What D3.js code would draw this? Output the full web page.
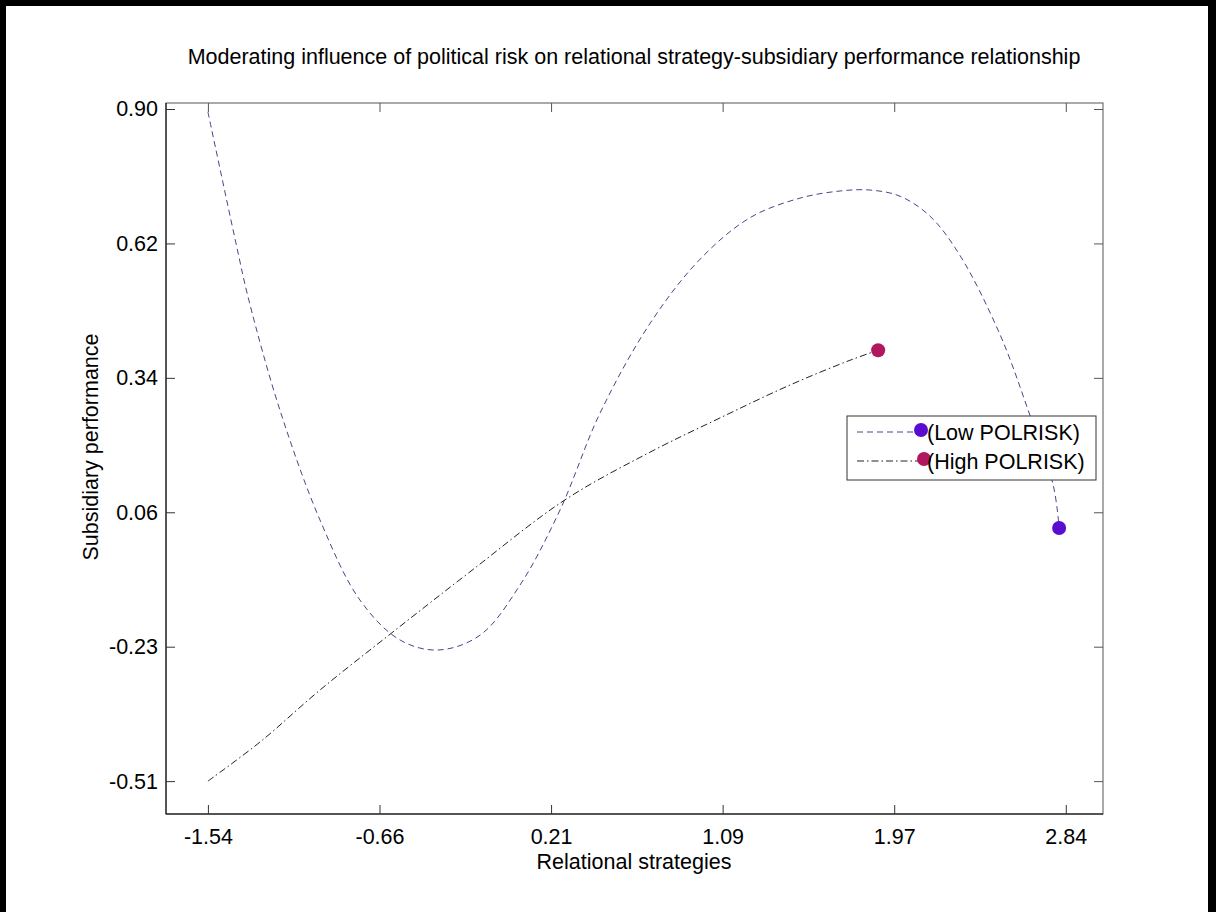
<!DOCTYPE html>
<html>
<head>
<meta charset="utf-8">
<script src="https://cdn.jsdelivr.net/npm/d3@7"></script>
<style>
  body { margin: 0; background: #fff; }
  text { font-family: "Liberation Sans", Arial, sans-serif; fill: #000; }
</style>
</head>
<body>
<svg id="chart" width="1216" height="912"></svg>
<script>
// x tick values and their printed labels
let xTickValues = [-1.54, -0.664, 0.212, 1.088, 1.964, 2.84];
let xTickLabels = ['-1.54', '-0.66', '0.21', '1.09', '1.97', '2.84'];
// y tick values and their printed labels
let yTickValues = [-0.51, -0.228, 0.054, 0.336, 0.618, 0.90];
let yTickLabels = ['-0.51', '-0.23', '0.06', '0.34', '0.62', '0.90'];

// Low POLRISK curve
let lowX = [-1.54, -1.397, -1.331, -1.172, -0.968, -0.764, -0.559, -0.365, -0.151, 0.053,
            0.258, 0.462, 0.717, 0.973, 1.228, 1.483, 1.688, 1.841, 1.994, 2.147, 2.301, 2.505, 2.648, 2.776, 2.806];
let lowY = [0.894, 0.619, 0.499, 0.268, 0.038, -0.130, -0.214, -0.235, -0.204, -0.099,
            0.059, 0.262, 0.450, 0.585, 0.672, 0.713, 0.728, 0.730, 0.717, 0.675, 0.592, 0.426, 0.268, 0.111, 0.021];

// High POLRISK curve
let highX = [-1.54, -1.274, -0.968, -0.595, -0.202, 0.283, 0.717, 1.075, 1.432, 1.739, 1.882];
let highY = [-0.51, -0.428, -0.319, -0.197, -0.071, 0.080, 0.180, 0.252, 0.321, 0.373, 0.394];

let seriesNames = ['(Low POLRISK)', '(High POLRISK)'];

drawChart();

function drawChart(){
    let svg = d3.select('#chart');
    let fs = 21.5;

    // page border
    svg.append('rect').attr('x', 0).attr('y', 0).attr('width', 6).attr('height', 912).attr('fill', '#000');
    svg.append('rect').attr('x', 0).attr('y', 0).attr('width', 1216).attr('height', 6).attr('fill', '#000');
    svg.append('rect').attr('x', 1208).attr('y', 0).attr('width', 8).attr('height', 912).attr('fill', '#000');

    let left = 166, right = 1103, top = 103, bottom = 814;

    let x = d3.scaleLinear().domain([-1.754, 3.03]).range([left, right]);
    let y = d3.scaleLinear().domain([-0.579, 0.9126]).range([bottom, top]);

    // axes box
    svg.append('rect')
        .attr('x', left).attr('y', top)
        .attr('width', right - left).attr('height', bottom - top)
        .attr('fill', 'none').attr('stroke', '#555').attr('stroke-width', 1);
    svg.append('line').attr('x1', left).attr('x2', left).attr('y1', top).attr('y2', bottom)
        .attr('stroke', '#000');
    svg.append('line').attr('x1', left).attr('x2', right).attr('y1', bottom).attr('y2', bottom)
        .attr('stroke', '#000');

    // bottom axis with ticks pointing inwards
    let xAxis = d3.axisBottom(x)
        .tickValues(xTickValues)
        .tickSize(-9)
        .tickPadding(15)
        .tickFormat((d, i) => xTickLabels[i]);
    let gx = svg.append('g').attr('transform', 'translate(0,' + bottom + ')').call(xAxis);
    gx.select('.domain').remove();
    gx.selectAll('line').attr('stroke', '#333');
    gx.selectAll('text').attr('font-size', fs).attr('font-family', '"Liberation Sans", Arial, sans-serif');

    // top ticks
    let xTop = d3.axisTop(x).tickValues(xTickValues).tickSize(-9).tickFormat('');
    let gxt = svg.append('g').attr('transform', 'translate(0,' + top + ')').call(xTop);
    gxt.select('.domain').remove();
    gxt.selectAll('line').attr('stroke', '#555');

    // left axis
    let yAxis = d3.axisLeft(y)
        .tickValues(yTickValues)
        .tickSize(-9)
        .tickPadding(8)
        .tickFormat((d, i) => yTickLabels[i]);
    let gy = svg.append('g').attr('transform', 'translate(' + left + ',0)').call(yAxis);
    gy.select('.domain').remove();
    gy.selectAll('line').attr('stroke', '#333');
    gy.selectAll('text').attr('font-size', fs).attr('font-family', '"Liberation Sans", Arial, sans-serif');

    // right ticks
    let yRight = d3.axisRight(y).tickValues(yTickValues).tickSize(-9).tickFormat('');
    let gyr = svg.append('g').attr('transform', 'translate(' + right + ',0)').call(yRight);
    gyr.select('.domain').remove();
    gyr.selectAll('line').attr('stroke', '#555');

    // curves
    let line = d3.line()
        .x(d => x(d[0]))
        .y(d => y(d[1]))
        .curve(d3.curveCatmullRom.alpha(0.5));

    let lowData = lowX.map((v, i) => [v, lowY[i]]);
    let highData = highX.map((v, i) => [v, highY[i]]);

    svg.append('path')
        .attr('d', line(lowData))
        .attr('fill', 'none')
        .attr('stroke', '#46468a')
        .attr('stroke-width', 1)
        .attr('stroke-dasharray', '6,4');

    svg.append('path')
        .attr('d', line(highData))
        .attr('fill', 'none')
        .attr('stroke', '#222')
        .attr('stroke-width', 1)
        .attr('stroke-dasharray', '7,3,1.5,3');

    // end markers
    let lowEnd = lowData[lowData.length - 1];
    let highEnd = highData[highData.length - 1];
    svg.append('circle').attr('cx', x(lowEnd[0])).attr('cy', y(lowEnd[1])).attr('r', 7)
        .attr('fill', '#5a0ccf');
    svg.append('circle').attr('cx', x(highEnd[0])).attr('cy', y(highEnd[1])).attr('r', 7)
        .attr('fill', '#b0175f');

    // title and axis labels
    svg.append('text')
        .attr('x', 634).attr('y', 64)
        .attr('text-anchor', 'middle')
        .attr('font-size', fs)
        .text('Moderating influence of political risk on relational strategy-subsidiary performance relationship');

    svg.append('text')
        .attr('x', 634).attr('y', 869)
        .attr('text-anchor', 'middle')
        .attr('font-size', fs)
        .text('Relational strategies');

    svg.append('text')
        .attr('transform', 'translate(98,447) rotate(-90)')
        .attr('text-anchor', 'middle')
        .attr('font-size', fs)
        .text('Subsidiary performance');

    // legend
    let lg = svg.append('g').attr('transform', 'translate(847,416)');
    lg.append('rect').attr('width', 249).attr('height', 64)
        .attr('fill', '#fff').attr('stroke', '#333');
    let legendStyles = [
        {color: '#46468a', dash: '6,4', marker: '#5a0ccf'},
        {color: '#222', dash: '7,3,1.5,3', marker: '#b0175f'}
    ];
    seriesNames.forEach((name, i) => {
        let cy = 16 + i * 29;
        lg.append('line').attr('x1', 10).attr('x2', 72).attr('y1', cy).attr('y2', cy)
            .attr('stroke', legendStyles[i].color).attr('stroke-dasharray', legendStyles[i].dash);
        lg.append('circle').attr('cx', 74 + i * 3).attr('cy', cy - 2).attr('r', 7)
            .attr('fill', legendStyles[i].marker);
        lg.append('text').attr('x', 80).attr('y', cy + 8).attr('font-size', fs).text(name);
    });
}
</script>
</body>
</html>
